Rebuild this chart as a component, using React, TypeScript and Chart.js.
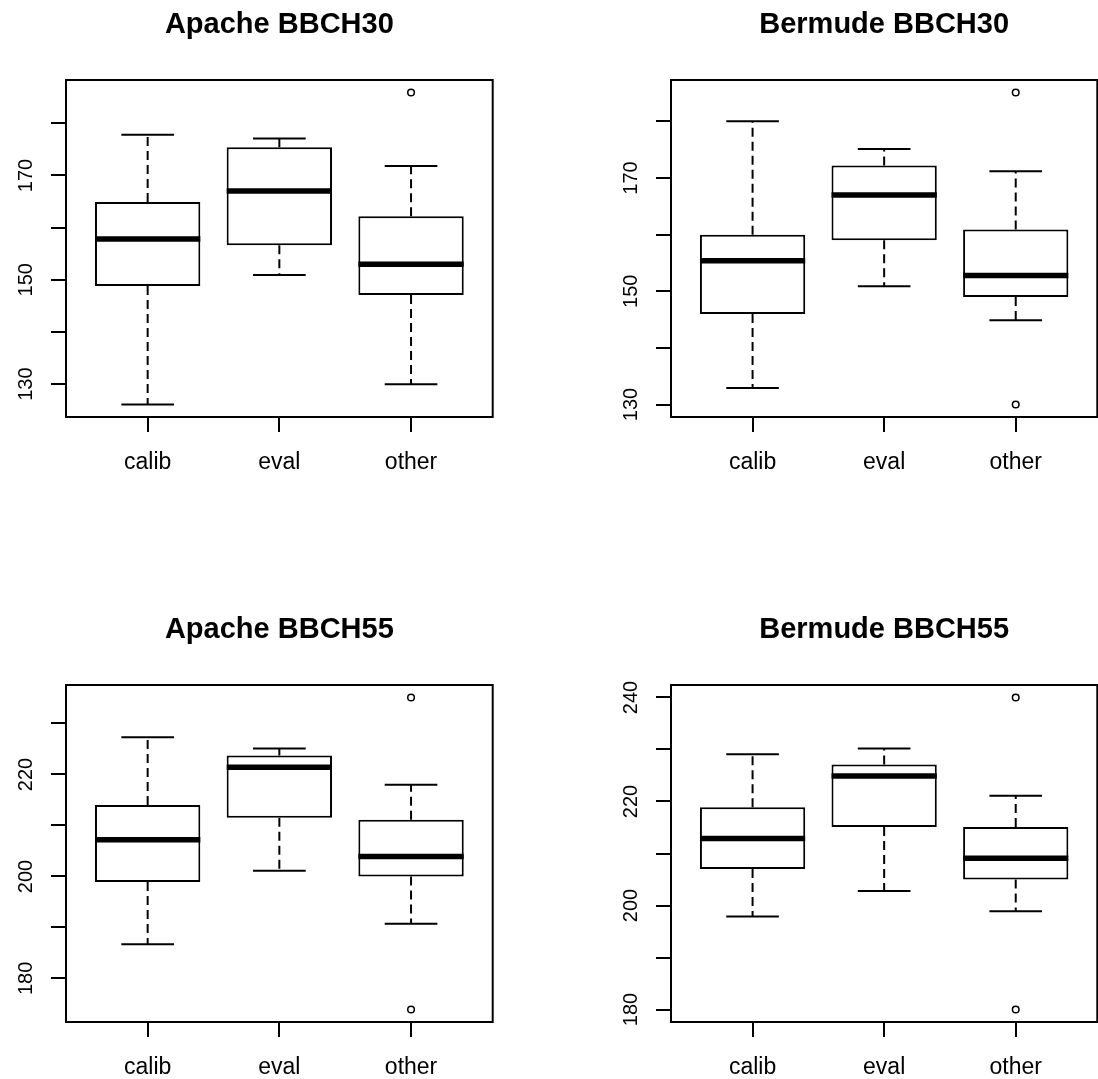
import React, { useEffect, useRef } from 'react';
import { Chart, registerables } from 'chart.js';

Chart.register(...registerables);

const categories = ['calib', 'eval', 'other'];

// Apache BBCH30
const a30Min = [126.1, 150.9, 130.0];
const a30Q1 = [148.8, 156.6, 147.1];
const a30Med = [157.8, 167.0, 153.0];
const a30Q3 = [164.9, 175.4, 162.2];
const a30Max = [177.8, 177.1, 171.8];
const a30OutCat = ['other'];
const a30OutVal = [185.9];
const a30Ticks = [130, 140, 150, 160, 170, 180];
const a30Labels = [130, 150, 170];

// Bermude BBCH30
const b30Min = [132.9, 150.9, 144.9];
const b30Q1 = [146.0, 159.0, 149.0];
const b30Med = [155.4, 167.0, 152.8];
const b30Q3 = [160.0, 172.2, 160.9];
const b30Max = [180.0, 175.1, 171.2];
const b30OutCat = ['other', 'other'];
const b30OutVal = [185.1, 130.0];
const b30Ticks = [130, 140, 150, 160, 170, 180];
const b30Labels = [130, 150, 170];

// Apache BBCH55
const a55Min = [186.7, 201.1, 190.7];
const a55Q1 = [198.9, 211.5, 200.0];
const a55Med = [207.2, 221.4, 203.9];
const a55Q3 = [214.0, 223.7, 211.1];
const a55Max = [227.3, 225.1, 218.0];
const a55OutCat = ['other', 'other'];
const a55OutVal = [235.1, 173.9];
const a55Ticks = [180, 190, 200, 210, 220, 230];
const a55Labels = [180, 200, 220];

// Bermude BBCH55
const b55Min = [197.9, 202.8, 198.9];
const b55Q1 = [207.0, 215.1, 205.0];
const b55Med = [212.9, 224.9, 209.1];
const b55Q3 = [218.9, 227.1, 215.1];
const b55Max = [229.1, 230.2, 221.1];
const b55OutCat = ['other', 'other'];
const b55OutVal = [240.0, 180.0];
const b55Ticks = [180, 190, 200, 210, 220, 230, 240];
const b55Labels = [180, 200, 220, 240];

type Panel = {
  title: string;
  min: number[];
  q1: number[];
  med: number[];
  q3: number[];
  max: number[];
  outCat: string[];
  outVal: number[];
  ticks: number[];
  labels: number[];
};

const panels: Panel[] = [
  { title: 'Apache BBCH30', min: a30Min, q1: a30Q1, med: a30Med, q3: a30Q3, max: a30Max, outCat: a30OutCat, outVal: a30OutVal, ticks: a30Ticks, labels: a30Labels },
  { title: 'Bermude BBCH30', min: b30Min, q1: b30Q1, med: b30Med, q3: b30Q3, max: b30Max, outCat: b30OutCat, outVal: b30OutVal, ticks: b30Ticks, labels: b30Labels },
  { title: 'Apache BBCH55', min: a55Min, q1: a55Q1, med: a55Med, q3: a55Q3, max: a55Max, outCat: a55OutCat, outVal: a55OutVal, ticks: a55Ticks, labels: a55Labels },
  { title: 'Bermude BBCH55', min: b55Min, q1: b55Q1, med: b55Med, q3: b55Q3, max: b55Max, outCat: b55OutCat, outVal: b55OutVal, ticks: b55Ticks, labels: b55Labels },
];

const FONT = "'Liberation Sans', Arial, Helvetica, sans-serif";
const BOX_HALF = 0.4;
const STAPLE_HALF = 0.2;

const framePlugin = {
  id: 'frame',
  afterDraw(chart: any) {
    const { ctx, chartArea } = chart;
    ctx.save();
    ctx.strokeStyle = '#000';
    ctx.lineWidth = 2;
    ctx.strokeRect(chartArea.left, chartArea.top, chartArea.right - chartArea.left, chartArea.bottom - chartArea.top);
    ctx.restore();
  },
};

function makeConfig(p: Panel, padRight: number): any {
  const xs = categories.map((_, i) => i + 1);
  const all = [...p.min, ...p.max, ...p.outVal];
  const lo = Math.min(...all);
  const hi = Math.max(...all);
  const yExt = (hi - lo) * 0.04;
  const xLo = 0.5 - categories.length * 0.04;
  const xHi = categories.length + 0.5 + categories.length * 0.04;

  const boxes = xs.map((x, i) => ({ x, y: [p.q1[i], p.q3[i]] }));
  const whiskers: any[] = [];
  const staples: any[] = [];
  const medians: any[] = [];
  xs.forEach((x, i) => {
    whiskers.push({ x, y: p.q3[i] }, { x, y: p.max[i] }, { x, y: null });
    whiskers.push({ x, y: p.q1[i] }, { x, y: p.min[i] }, { x, y: null });
    staples.push({ x: x - STAPLE_HALF, y: p.max[i] }, { x: x + STAPLE_HALF, y: p.max[i] }, { x, y: null });
    staples.push({ x: x - STAPLE_HALF, y: p.min[i] }, { x: x + STAPLE_HALF, y: p.min[i] }, { x, y: null });
    medians.push({ x: x - BOX_HALF, y: p.med[i] }, { x: x + BOX_HALF, y: p.med[i] }, { x, y: null });
  });
  const outliers = p.outCat.map((c, i) => ({ x: categories.indexOf(c) + 1, y: p.outVal[i] }));

  return {
    type: 'bar',
    data: {
      datasets: [
        {
          type: 'bar',
          data: boxes,
          backgroundColor: '#fff',
          borderColor: '#000',
          borderWidth: 2,
          borderSkipped: false,
          inflateAmount: 0,
          categoryPercentage: 1,
          barPercentage: 2 * BOX_HALF,
          order: 5,
        },
        {
          type: 'line',
          data: whiskers,
          borderColor: '#000',
          borderWidth: 2,
          borderDash: [9, 5],
          pointRadius: 0,
          spanGaps: false,
          fill: false,
          order: 4,
        },
        {
          type: 'line',
          data: staples,
          borderColor: '#000',
          borderWidth: 2,
          pointRadius: 0,
          spanGaps: false,
          fill: false,
          order: 3,
        },
        {
          type: 'line',
          data: medians,
          borderColor: '#000',
          borderWidth: 5.5,
          borderCapStyle: 'butt',
          pointRadius: 0,
          spanGaps: false,
          fill: false,
          order: 1,
        },
        {
          type: 'scatter',
          data: outliers,
          pointStyle: 'circle',
          pointRadius: 3.3,
          pointBorderWidth: 1.5,
          pointBorderColor: '#000',
          pointBackgroundColor: 'rgba(0,0,0,0)',
          showLine: false,
          order: 2,
        },
      ],
    },
    options: {
      animation: false,
      responsive: false,
      events: [],
      layout: { padding: { left: 0, right: padRight, top: 0, bottom: 0 } },
      plugins: {
        legend: { display: false },
        tooltip: { enabled: false },
        title: {
          display: true,
          text: p.title,
          fullSize: false,
          color: '#000',
          font: { family: FONT, size: 29, weight: 'bold', lineHeight: 1.2 },
          padding: { top: 8, bottom: 37.2 },
        },
      },
      scales: {
        x: {
          type: 'linear',
          min: xLo,
          max: xHi,
          offset: false,
          afterBuildTicks: (s: any) => {
            s.ticks = xs.map((v) => ({ value: v }));
          },
          afterFit: (s: any) => {
            s.height = 70;
            s.paddingLeft = 0;
            s.paddingRight = 0;
          },
          grid: { drawOnChartArea: false, drawTicks: true, tickLength: 15, color: '#000', lineWidth: 2, offset: false },
          border: { display: false },
          ticks: {
            autoSkip: false,
            maxRotation: 0,
            minRotation: 0,
            padding: 17,
            color: '#000',
            font: { family: FONT, size: 23 },
            callback: (v: any) => categories[Math.round(v) - 1] ?? '',
          },
        },
        y: {
          type: 'linear',
          min: lo - yExt,
          max: hi + yExt,
          afterBuildTicks: (s: any) => {
            s.ticks = p.ticks.map((v) => ({ value: v }));
          },
          afterFit: (s: any) => {
            s.width = 66;
            s.paddingTop = 0;
            s.paddingBottom = 0;
          },
          grid: { drawOnChartArea: false, drawTicks: true, tickLength: 15, color: '#000', lineWidth: 2 },
          border: { display: false },
          ticks: {
            autoSkip: false,
            minRotation: 90,
            maxRotation: 90,
            crossAlign: 'center',
            padding: 8,
            color: '#000',
            font: { family: FONT, size: 20 },
            callback: (v: any) => (p.labels.includes(v) ? String(v) : ''),
          },
        },
      },
    },
    plugins: [framePlugin],
  };
}

function BoxPanel(props: { p: Panel; left: number; top: number; width: number; height: number; padRight: number }) {
  const ref = useRef<HTMLCanvasElement>(null);
  const { p, left, top, width, height, padRight } = props;
  useEffect(() => {
    const chart = new Chart(ref.current as HTMLCanvasElement, makeConfig(p, padRight));
    return () => chart.destroy();
  }, []);
  return (
    <canvas
      ref={ref}
      width={width}
      height={height}
      style={{ position: 'absolute', left, top, width, height }}
    />
  );
}

const layout = [
  { left: 0, top: 0, width: 549, padRight: 56.3 },
  { left: 605, top: 0, width: 513, padRight: 20.7 },
  { left: 0, top: 605, width: 549, padRight: 56.3 },
  { left: 605, top: 605, width: 513, padRight: 20.7 },
];

export default function App() {
  return (
    <div
      style={{
        position: 'fixed',
        left: 0,
        top: 0,
        width: 1098,
        height: 1079,
        background: '#fff',
        overflow: 'hidden',
      }}
    >
      {panels.map((p, i) => (
        <BoxPanel key={p.title} p={p} height={487} {...layout[i]} />
      ))}
    </div>
  );
}
